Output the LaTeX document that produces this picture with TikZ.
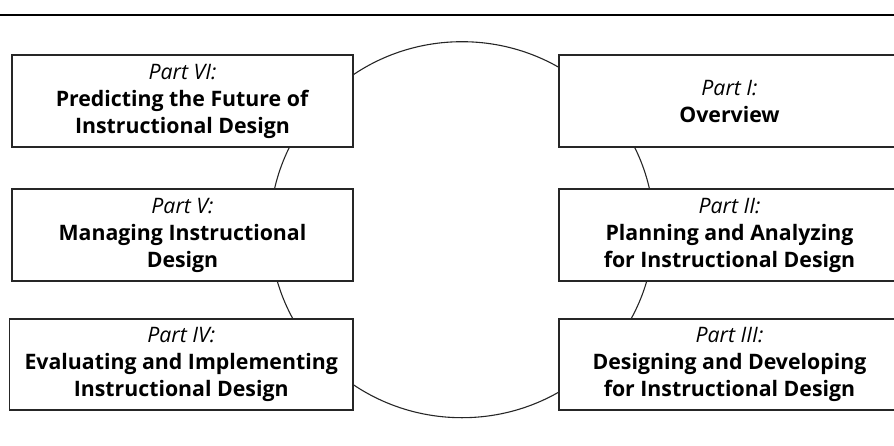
\documentclass[tikz,border=0pt]{standalone}
\usepackage{fontspec}
\setmainfont{Open Sans}
\begin{document}
\begin{tikzpicture}[x=1pt,y=-1pt,
  part/.style={draw=black!85, line width=1.3pt, fill=white,
    minimum width=341pt, minimum height=92pt, inner sep=0pt,
    align=center, font=\fontsize{21.3}{27}\selectfont},
  ring/.style={draw=black!85, line width=1.1pt},
  rule/.style={draw=black, line width=1.6pt}]
\useasboundingbox (0,0) rectangle (894,445);
\begin{scope}
  \clip (0,0) rectangle (894,445);
  % top rule
  \coordinate (ruleL) at (0,15);
  \coordinate (ruleR) at (894,15);
  \draw[rule] (ruleL) -- (ruleR);
  % cycle behind the six parts
  \draw[ring] (462,229.7) ellipse [x radius=192pt, y radius=188pt];
  % left column
  \node[part] (p6) at (182.5,101) {\textit{Part VI:}\\\textbf{Predicting the Future of}\\\textbf{Instructional Design}};
  \node[part] (p5) at (182.5,235) {\textit{Part V:}\\\textbf{Managing Instructional}\\\textbf{Design}};
  \node[part, minimum width=343.5pt, minimum height=91pt] (p4) at (181.2,364.5) {\textit{Part IV:}\\\textbf{Evaluating and Implementing}\\\textbf{Instructional Design}};
  % right column
  \node[part] (p1) at (729.5,101) {\textit{Part I:}\\\textbf{Overview}};
  \node[part] (p2) at (729.5,235) {\textit{Part II:}\\\textbf{Planning and Analyzing}\\\textbf{for Instructional Design}};
  \node[part, minimum height=91pt] (p3) at (729.5,364.5) {\textit{Part III:}\\\textbf{Designing and Developing}\\\textbf{for Instructional Design}};
\end{scope}
\end{tikzpicture}
\end{document}
